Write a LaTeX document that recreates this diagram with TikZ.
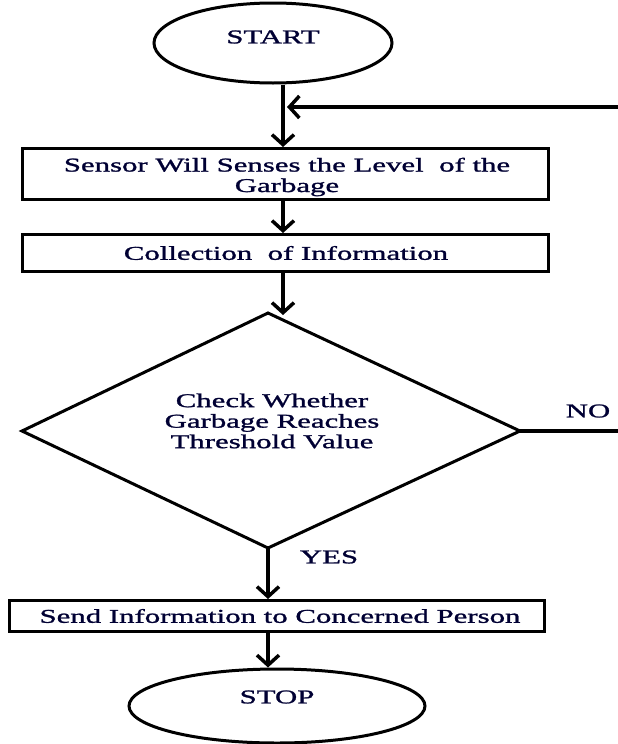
\documentclass[tikz,border=0pt]{standalone}
\usepackage{fontspec}
\setmainfont{Liberation Serif}[FakeStretch=1.58,FakeBold=1.3]
\usetikzlibrary{shapes.geometric,arrows.meta}
\tikzset{
  line/.style={line width=3.5pt},
  flow/.style={line, -{Straight Barb[length=10pt,width=22pt,line width=3.5pt]}},
  term/.style={draw, line width=3pt, ellipse, inner sep=0pt},
  procbox/.style={draw, line width=3pt, rectangle, inner sep=0pt, align=center},
  txt/.style={inner sep=0pt, align=center, font=\fontsize{19.5}{20.5}\selectfont, text=black!80!blue},
}
\begin{document}
\begin{tikzpicture}[x=1pt,y=-1pt]
\useasboundingbox (0,0) rectangle (618,744);
\clip (0,0) rectangle (618,744);
% start
\node[term, minimum width=238pt, minimum height=80pt] (start) at (273,43) {};
\node[txt] (starttxt) at (273,37) {START};
% box 1
\node[procbox, minimum width=526pt, minimum height=51pt] (b1) at (285,174) {};
\node[txt] (b1t) at (287,177) {Sensor Will Senses the Level\ \ of the\\ Garbage};
% box 2
\node[procbox, minimum width=526pt, minimum height=37pt] (b2) at (285,253) {};
\node[txt] (b2t) at (286,253) {Collection\ \ of Information};
% diamond
\coordinate (dt) at (268,313);
\coordinate (db) at (268,548);
\coordinate (dl) at (22,431);
\coordinate (dr) at (520,431);
\draw[line width=3pt, line join=miter] (dt) -- (dr) -- (db) -- (dl) -- cycle;
\node[txt] (dtxt) at (272,421) {Check Whether\\ Garbage Reaches\\ Threshold Value};
\node[txt] (no) at (588,411) {NO};
\node[txt] (yes) at (329,557) {YES};
% box 3
\node[procbox, minimum width=535pt, minimum height=31pt] (b3) at (277,616) {};
\node[txt] (b3t) at (280,616) {Send Information to Concerned Person};
% stop
\node[term, minimum width=296pt, minimum height=74pt] (stop) at (277,706) {};
\node[txt] (stoptxt) at (277,697) {STOP};
% connectors
\coordinate (join) at (283,107);
\coordinate (far) at (640,107);
\coordinate (farlow) at (640,431);
\draw[line] (start.south -| join) -- (join);
\draw[flow] (join) -- (b1.north -| join);
\draw[flow] (far) -- ([xshift=4pt]join);
\draw[line] (dr) -- (farlow) -- (far);
\draw[flow] (b1.south -| join) -- (b2.north -| join);
\draw[flow] (b2.south -| join) -- ([yshift=-2pt]dt -| join);
\draw[flow] (db) -- (b3.north -| db);
\draw[flow] (b3.south -| db) -- (stop.north -| db);
\end{tikzpicture}
\end{document}
